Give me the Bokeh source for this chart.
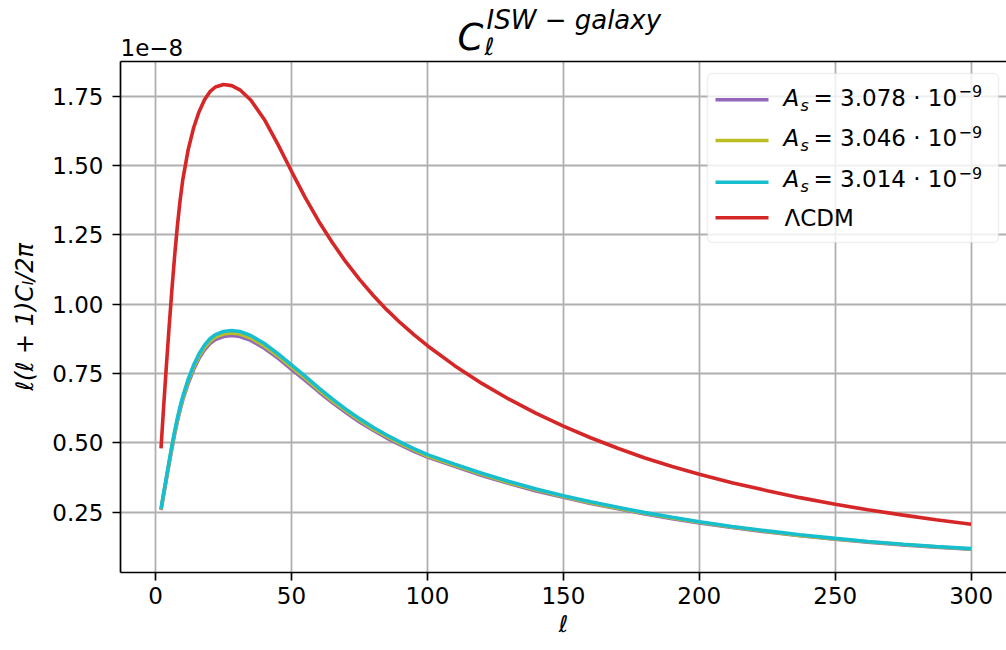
from bokeh.plotting import figure
from bokeh.layouts import column
from bokeh.models import Range1d, FixedTicker, PrintfTickFormatter, Label, BoxAnnotation, LinearAxis
from bokeh.embed import file_html
from bokeh.resources import INLINE

# ---------------- data (values in units of 1e-8) ----------------
ell = [2, 3, 4, 5, 6, 7, 8, 9, 10, 12, 14, 16, 18, 20, 22, 25, 28, 31, 35, 40, 45, 50,
       55, 60, 65, 70, 75, 80, 85, 90, 95, 100, 110, 120, 130, 140, 150, 160, 170, 180,
       190, 200, 212, 225, 237, 250, 262, 275, 287, 300]

cl_as_3078 = [0.257, 0.314, 0.369, 0.425, 0.479, 0.530, 0.576, 0.617, 0.654, 0.714, 0.764,
              0.805, 0.835, 0.858, 0.872, 0.883, 0.887, 0.883, 0.869, 0.841, 0.805, 0.765,
              0.725, 0.684, 0.645, 0.609, 0.575, 0.545, 0.517, 0.492, 0.469, 0.448, 0.415,
              0.382, 0.353, 0.326, 0.303, 0.281, 0.262, 0.243, 0.226, 0.211, 0.194, 0.178,
              0.165, 0.152, 0.141, 0.131, 0.123, 0.116]

cl_as_3046 = [0.259, 0.317, 0.373, 0.430, 0.484, 0.536, 0.582, 0.624, 0.660, 0.722, 0.772,
              0.813, 0.843, 0.866, 0.881, 0.892, 0.896, 0.892, 0.878, 0.849, 0.813, 0.773,
              0.733, 0.691, 0.651, 0.615, 0.581, 0.550, 0.523, 0.497, 0.474, 0.452, 0.419,
              0.386, 0.356, 0.330, 0.306, 0.284, 0.264, 0.246, 0.229, 0.213, 0.196, 0.180,
              0.166, 0.153, 0.143, 0.133, 0.125, 0.117]

cl_as_3014 = [0.262, 0.320, 0.377, 0.434, 0.489, 0.541, 0.588, 0.630, 0.667, 0.729, 0.780,
              0.821, 0.852, 0.875, 0.890, 0.901, 0.905, 0.901, 0.887, 0.858, 0.821, 0.781,
              0.740, 0.698, 0.658, 0.621, 0.587, 0.556, 0.528, 0.502, 0.479, 0.457, 0.423,
              0.390, 0.360, 0.333, 0.309, 0.287, 0.267, 0.248, 0.231, 0.215, 0.198, 0.182,
              0.168, 0.155, 0.144, 0.134, 0.126, 0.118]

cl_lcdm = [0.480, 0.635, 0.781, 0.920, 1.051, 1.172, 1.280, 1.372, 1.448, 1.557, 1.636,
           1.694, 1.737, 1.766, 1.783, 1.792, 1.788, 1.773, 1.736, 1.666, 1.576, 1.479,
           1.385, 1.299, 1.222, 1.152, 1.089, 1.032, 0.980, 0.933, 0.890, 0.850, 0.778,
           0.714, 0.657, 0.606, 0.560, 0.518, 0.480, 0.445, 0.414, 0.386, 0.356, 0.327,
           0.302, 0.278, 0.258, 0.239, 0.222, 0.206]

x_ticks = [0, 50, 100, 150, 200, 250, 300]
y_ticks = [0.25, 0.50, 0.75, 1.00, 1.25, 1.50, 1.75]

series_names = ["3.078", "3.046", "3.014"]
series_colors = ["#9467bd", "#bcbd22", "#17becf"]
lcdm_color = "#d62728"

# ---------------- layout ----------------
FONT = "DejaVu Sans"
W, H = 1006, 650
TOP_H = 60                       # height of the strip holding the title
X0, X1 = -12.9, 313.0
Y0, Y1 = 0.032, 1.875
FL, FR, FT, FB = 120, 1006, 61, 572   # frame edges in page pixels


def dx(px):
    return X0 + (px - FL) * (X1 - X0) / (FR - FL)


def dy(py):
    return Y0 + (FB - py) * (Y1 - Y0) / (FB - FT)


# ---- title strip (frame aligned with the main frame; coordinates = page pixels) ----
t = figure(width=W, height=TOP_H, output_backend="svg", toolbar_location=None, title=None,
           x_range=Range1d(FL, FR), y_range=Range1d(TOP_H, 0),
           x_axis_location=None, y_axis_location=None,
           min_border_left=FL, min_border_right=0, min_border_top=0, min_border_bottom=0)
t.grid.visible = False
t.outline_line_color = None
t.background_fill_color = "white"
t.border_fill_color = "white"


def tlabel(txt, px, py, size, style="normal"):
    # py = vertical centre of the text box
    t.add_layout(Label(x=px, y=py, text=txt, text_font=FONT, text_font_size=size,
                       text_font_style=style, text_align="left", text_baseline="middle",
                       text_color="black"))


tlabel("C", 457, 37.2, "37px", "italic")
tlabel("ℓ", 484, 46.0, "24px", "italic")
tlabel("ISW − galaxy", 486, 19.0, "26px", "italic")
tlabel("1e−8", 120, 46.5, "23px")

# ---- main plot ----
p = figure(width=W, height=H - TOP_H, output_backend="svg", toolbar_location=None, title=None,
           x_range=Range1d(X0, X1), y_range=Range1d(Y0, Y1),
           min_border_left=FL, min_border_right=0, min_border_top=FT - TOP_H,
           min_border_bottom=H - FB)
p.outline_line_color = None
p.background_fill_color = "white"
p.border_fill_color = "white"

for ax, ticks in ((p.xaxis[0], x_ticks), (p.yaxis[0], y_ticks)):
    ax.ticker = FixedTicker(ticks=ticks)
    ax.axis_line_color = "black"
    ax.axis_line_width = 1.7
    ax.major_tick_line_color = "black"
    ax.major_tick_line_width = 1.7
    ax.major_tick_out = 8
    ax.major_tick_in = 0
    ax.minor_tick_out = 0
    ax.minor_tick_in = 0
    ax.major_label_text_font = FONT
    ax.major_label_text_font_size = "23px"
    ax.major_label_text_color = "black"
    ax.axis_label_text_font = FONT
    ax.axis_label_text_font_style = "italic"
    ax.axis_label_text_color = "black"

p.xaxis[0].major_label_standoff = 6
p.xaxis[0].axis_label = "ℓ"
p.xaxis[0].axis_label_text_font_size = "23px"
p.xaxis[0].axis_label_standoff = 4

p.yaxis[0].major_label_standoff = 9
p.yaxis[0].formatter = PrintfTickFormatter(format="%.2f")
p.yaxis[0].axis_label = "ℓ(ℓ + 1)Cₗ/2π"
p.yaxis[0].axis_label_text_font_size = "24px"
p.yaxis[0].axis_label_standoff = 10

# top spine (an axis without ticks or labels)
top = LinearAxis(ticker=FixedTicker(ticks=[]), axis_line_color="black", axis_line_width=1.7,
                 major_tick_out=0, major_tick_in=0, minor_tick_out=0, minor_tick_in=0,
                 major_label_standoff=0, major_label_text_font_size="0px")
p.add_layout(top, "above")

for g, ticks in ((p.xgrid[0], x_ticks), (p.ygrid[0], y_ticks)):
    g.ticker = FixedTicker(ticks=ticks)
    g.grid_line_color = "#b0b0b0"
    g.grid_line_width = 1.8

# curves
for ys, col in zip([cl_as_3078, cl_as_3046, cl_as_3014], series_colors):
    p.line(ell, ys, line_color=col, line_width=3.6)
p.line(ell, cl_lcdm, line_color=lcdm_color, line_width=3.6)


def label(txt, px, py, size, style="normal"):
    # py = vertical centre of the text box, in page pixels
    p.add_layout(Label(x=dx(px), y=dy(py), text=txt, text_font=FONT, text_font_size=size,
                       text_font_style=style, text_align="left", text_baseline="middle",
                       text_color="black"))


# legend
p.add_layout(BoxAnnotation(left=dx(707), right=dx(998), top=dy(73), bottom=dy(242),
                           fill_color="white", fill_alpha=0.8, line_color="#cccccc",
                           line_width=1.5, border_radius=5))
rows_base = [105, 145.5, 186.5]
rows_swatch = [99.3, 140, 181.7]
for name, col, b, s in zip(series_names, series_colors, rows_base, rows_swatch):
    p.add_layout(BoxAnnotation(left=dx(715), right=dx(768), top=dy(s - 1.8), bottom=dy(s + 1.8),
                               fill_color=col, fill_alpha=1.0, line_color=None))
    label("A", 783, b - 8, "23px", "italic")
    label("s", 800, b - 0.5, "16px", "italic")
    label("= " + name + " · 10", 813, b - 8, "23px")
    label("−9", 958, b - 14.5, "16px")

p.add_layout(BoxAnnotation(left=dx(715), right=dx(768), top=dy(217.3 - 1.8), bottom=dy(217.3 + 1.8),
                           fill_color=lcdm_color, fill_alpha=1.0, line_color=None))
label("ΛCDM", 784, 217.5, "23px")

layout = column(t, p, spacing=0)
open("out.html", "w").write(file_html(layout, INLINE))
